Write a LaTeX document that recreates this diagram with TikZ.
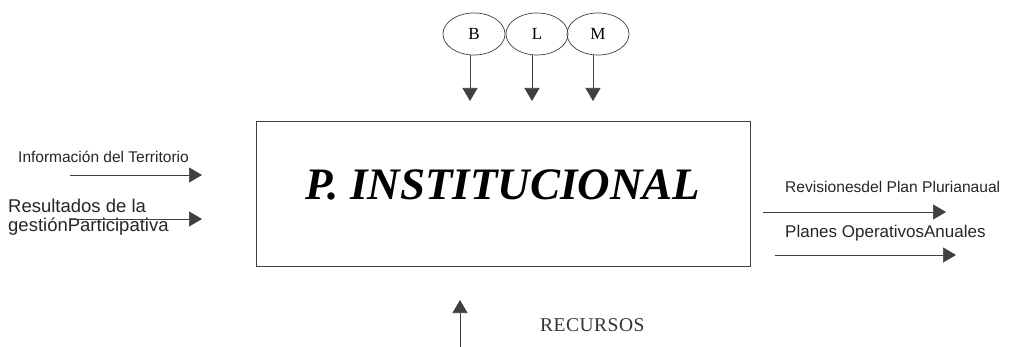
\documentclass[tikz,border=0pt]{standalone}
\usepackage{fontspec}
\setmainfont{Liberation Serif}
\newfontfamily\arialf{Liberation Sans}
\usetikzlibrary{arrows.meta,shapes.geometric}
\begin{document}
\begin{tikzpicture}[x=1pt,y=-1pt,
  line/.style={draw=black!75,line width=0.7pt},
  arr/.style={line,-{Triangle[length=13pt,width=15pt]}},
  circ/.style={ellipse,draw=black!75,line width=0.7pt,minimum width=62pt,minimum height=42pt,inner sep=0pt,font=\fontsize{17}{17}\selectfont},
  sidetext/.style={font=\arialf,inner sep=0pt,text=black!85}]
\useasboundingbox (0,0) rectangle (1027,347);
\node[line,draw,minimum width=494pt,minimum height=145pt,inner sep=0pt] (box) at (503,193.5) {};
\node[font=\fontsize{45}{45}\selectfont\bfseries\itshape] (title) at (503,185) {P. INSTITUCIONAL};
\node[circ] (B) at (474,34) {B};
\node[circ] (L) at (537,34) {L};
\node[circ] (M) at (598,34) {M};
\coordinate (bt) at (470,101);
\coordinate (lt) at (532,101);
\coordinate (mt) at (593,101);
\draw[arr] (B.south -| bt) -- (bt);
\draw[arr] (L.south -| lt) -- (lt);
\draw[arr] (M.south -| mt) -- (mt);
% left inputs
\node[sidetext,anchor=west,font=\arialf\fontsize{15.5}{16}\selectfont] (info) at (18,157) {Información del Territorio};
\node[sidetext,anchor=west,align=left,font=\arialf\fontsize{18.5}{19.5}\selectfont] (res) at (8,217) {Resultados de la\\gestiónParticipativa};
\coordinate (i0) at (70,175); \coordinate (i1) at (202,175);
\coordinate (r0) at (70,219); \coordinate (r1) at (202,219);
\draw[arr] (i0) -- (i1);
\draw[arr] (r0) -- (r1);
% right outputs
\node[sidetext,anchor=west,font=\arialf\fontsize{15.6}{16}\selectfont] (rev) at (785,187) {Revisionesdel Plan Plurianaual};
\node[sidetext,anchor=west,font=\arialf\fontsize{17}{17}\selectfont] (pla) at (785,233) {Planes OperativosAnuales};
\coordinate (v0) at (763,212); \coordinate (v1) at (946,212);
\coordinate (p0) at (775,255); \coordinate (p1) at (956,255);
\draw[arr] (v0) -- (v1);
\draw[arr] (p0) -- (p1);
% bottom
\coordinate (u0) at (460,347); \coordinate (u1) at (460,300);
\draw[arr] (u0) -- (u1);
\node[font=\fontsize{19.5}{19.5}\selectfont,text=black!80,anchor=west,inner sep=0pt] (rec) at (540,325) {R\kern0.5pt E\kern0.5pt C\kern0.5pt U\kern0.5pt R\kern0.5pt S\kern0.5pt O\kern0.5pt S};
\end{tikzpicture}
\end{document}
